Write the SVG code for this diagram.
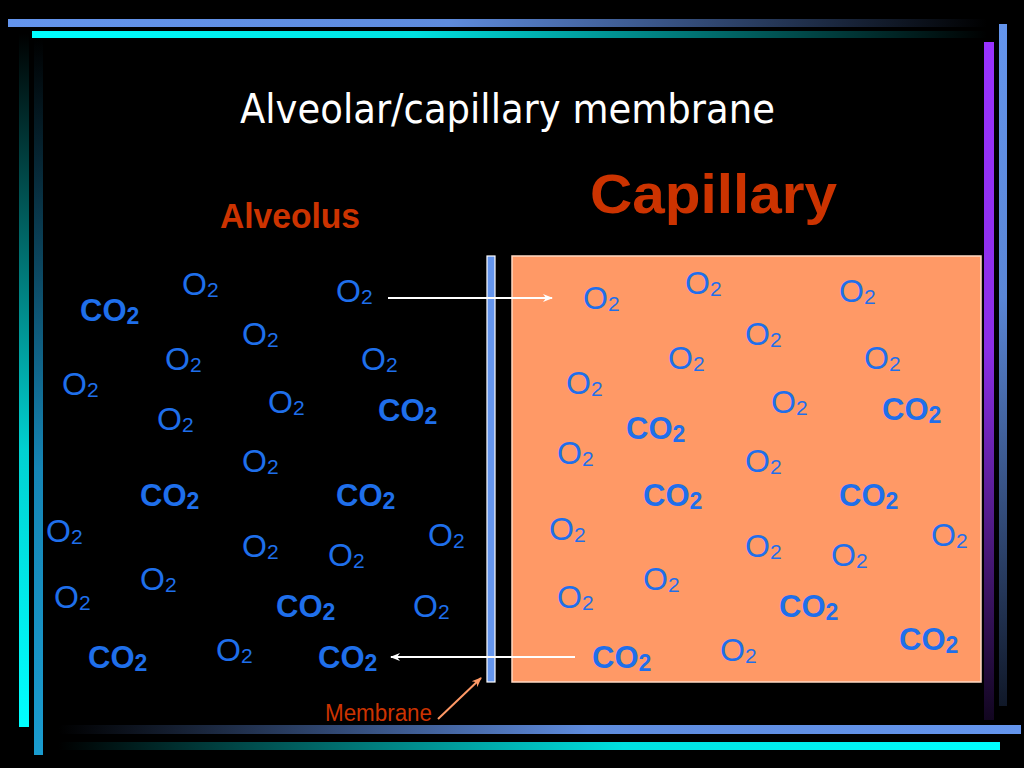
<svg xmlns="http://www.w3.org/2000/svg" width="1024" height="768" viewBox="0 0 1024 768">
<defs>
<linearGradient id="gTopBlue" x1="0" y1="0" x2="1" y2="0"><stop offset="0" stop-color="#6495ED"/><stop offset="0.45" stop-color="#5E8BDD"/><stop offset="1" stop-color="#000000"/></linearGradient>
<linearGradient id="gTopCyan" x1="0" y1="0" x2="1" y2="0"><stop offset="0" stop-color="#00FFFF"/><stop offset="0.4" stop-color="#00E0E0"/><stop offset="1" stop-color="#000000"/></linearGradient>
<linearGradient id="gBotBlue" x1="0" y1="0" x2="1" y2="0"><stop offset="0" stop-color="#000000"/><stop offset="0.55" stop-color="#5E8BDD"/><stop offset="1" stop-color="#6495ED"/></linearGradient>
<linearGradient id="gBotCyan" x1="0" y1="0" x2="1" y2="0"><stop offset="0" stop-color="#000000"/><stop offset="0.6" stop-color="#00E0E0"/><stop offset="1" stop-color="#00FFFF"/></linearGradient>
<linearGradient id="gLeftCyan" x1="0" y1="0" x2="0" y2="1"><stop offset="0" stop-color="#000000"/><stop offset="0.6" stop-color="#00D0D0"/><stop offset="1" stop-color="#00FFFF"/></linearGradient>
<linearGradient id="gLeftBlue" x1="0" y1="0" x2="0" y2="1"><stop offset="0" stop-color="#000000"/><stop offset="0.6" stop-color="#1585B5"/><stop offset="1" stop-color="#1A9CCF"/></linearGradient>
<linearGradient id="gRightPurple" x1="0" y1="0" x2="0" y2="1"><stop offset="0" stop-color="#9933FF"/><stop offset="0.45" stop-color="#8A2EE6"/><stop offset="1" stop-color="#120620"/></linearGradient>
<linearGradient id="gRightBlue" x1="0" y1="0" x2="0" y2="1"><stop offset="0" stop-color="#6495ED"/><stop offset="0.4" stop-color="#5A86D6"/><stop offset="1" stop-color="#101828"/></linearGradient>
<marker id="arrW" markerWidth="10" markerHeight="10" refX="9" refY="5" orient="auto" markerUnits="userSpaceOnUse"><path d="M0,1 L10,5 L0,9 L3,5 Z" fill="#FFFFFF"/></marker>
<marker id="arrS" markerWidth="10" markerHeight="10" refX="9" refY="5" orient="auto" markerUnits="userSpaceOnUse"><path d="M0,1 L10,5 L0,9 L3,5 Z" fill="#FF9966"/></marker>
</defs>
<style>
.o2{font-family:"Liberation Sans",Arial,sans-serif;font-size:32px;fill:#1F6FEB}
.o2 .s{font-size:21px}
.co2{font-family:"Liberation Sans",Arial,sans-serif;font-size:31px;font-weight:bold;fill:#1F6FEB}
.co2 .s{font-size:23px}
.red{font-family:"Liberation Sans",Arial,sans-serif;fill:#CC3300}
.conn{stroke-width:2;fill:none}
</style>
<rect x="0" y="0" width="1024" height="768" fill="#000000"/>
<g id="frame">
<rect x="8" y="19" width="979" height="8" fill="url(#gTopBlue)"/>
<rect x="32" y="31" width="955" height="7" fill="url(#gTopCyan)"/>
<rect x="19" y="33" width="10" height="694" fill="url(#gLeftCyan)"/>
<rect x="34" y="39" width="9" height="716" fill="url(#gLeftBlue)"/>
<rect x="984" y="42" width="10" height="678" fill="url(#gRightPurple)"/>
<rect x="999" y="24" width="8" height="682" fill="url(#gRightBlue)"/>
<rect x="59" y="725" width="962" height="9" fill="url(#gBotBlue)"/>
<rect x="59" y="742" width="941" height="8" fill="url(#gBotCyan)"/>
</g>
<g id="title"><text x="240" y="123" font-family="'DejaVu Sans',Tahoma,sans-serif" font-size="41" fill="#FFFFFF" textLength="535" lengthAdjust="spacingAndGlyphs">Alveolar/capillary membrane</text></g>
<g id="capillary-label"><text class="red" x="590" y="213" font-size="55" font-weight="bold" textLength="247" lengthAdjust="spacingAndGlyphs">Capillary</text></g>
<g id="alveolus-label"><text class="red" x="220" y="228" font-size="35" font-weight="bold" textLength="140" lengthAdjust="spacingAndGlyphs">Alveolus</text></g>
<g id="capillary"><rect x="512" y="256" width="469" height="426" fill="#FF9966" stroke="#FFD9C4" stroke-width="1.5"/></g>
<g id="membrane"><rect x="487" y="256" width="8" height="426" fill="#6495ED" stroke="#FFFFFF" stroke-width="1.2"/></g>
<g id="membrane-label"><text class="red" x="325" y="721" font-size="23" textLength="107" lengthAdjust="spacingAndGlyphs">Membrane</text></g>
<g id="alveolus-molecules">
<text class="o2" x="182" y="295">O<tspan class="s" dy="2">2</tspan></text>
<text class="o2" x="336" y="302">O<tspan class="s" dy="2">2</tspan></text>
<text class="co2" x="80" y="321">CO<tspan class="s" dy="3">2</tspan></text>
<text class="o2" x="242" y="345">O<tspan class="s" dy="2">2</tspan></text>
<text class="o2" x="165" y="370">O<tspan class="s" dy="2">2</tspan></text>
<text class="o2" x="361" y="370">O<tspan class="s" dy="2">2</tspan></text>
<text class="o2" x="62" y="395">O<tspan class="s" dy="2">2</tspan></text>
<text class="o2" x="268" y="413">O<tspan class="s" dy="2">2</tspan></text>
<text class="co2" x="378" y="421">CO<tspan class="s" dy="3">2</tspan></text>
<text class="o2" x="157" y="430">O<tspan class="s" dy="2">2</tspan></text>
<text class="o2" x="242" y="472">O<tspan class="s" dy="2">2</tspan></text>
<text class="co2" x="140" y="506">CO<tspan class="s" dy="3">2</tspan></text>
<text class="co2" x="336" y="506">CO<tspan class="s" dy="3">2</tspan></text>
<text class="o2" x="46" y="542">O<tspan class="s" dy="2">2</tspan></text>
<text class="o2" x="428" y="546">O<tspan class="s" dy="2">2</tspan></text>
<text class="o2" x="242" y="557">O<tspan class="s" dy="2">2</tspan></text>
<text class="o2" x="328" y="566">O<tspan class="s" dy="2">2</tspan></text>
<text class="o2" x="140" y="590">O<tspan class="s" dy="2">2</tspan></text>
<text class="o2" x="54" y="608">O<tspan class="s" dy="2">2</tspan></text>
<text class="co2" x="276" y="617">CO<tspan class="s" dy="3">2</tspan></text>
<text class="o2" x="413" y="617">O<tspan class="s" dy="2">2</tspan></text>
<text class="o2" x="216" y="661">O<tspan class="s" dy="2">2</tspan></text>
<text class="co2" x="88" y="668">CO<tspan class="s" dy="3">2</tspan></text>
<text class="co2" x="318" y="668">CO<tspan class="s" dy="3">2</tspan></text>
</g>
<g id="capillary-molecules">
<text class="o2" x="685" y="294">O<tspan class="s" dy="2">2</tspan></text>
<text class="o2" x="583" y="309">O<tspan class="s" dy="2">2</tspan></text>
<text class="o2" x="839" y="302">O<tspan class="s" dy="2">2</tspan></text>
<text class="o2" x="745" y="345">O<tspan class="s" dy="2">2</tspan></text>
<text class="o2" x="668" y="369">O<tspan class="s" dy="2">2</tspan></text>
<text class="o2" x="864" y="369">O<tspan class="s" dy="2">2</tspan></text>
<text class="o2" x="566" y="394">O<tspan class="s" dy="2">2</tspan></text>
<text class="o2" x="771" y="413">O<tspan class="s" dy="2">2</tspan></text>
<text class="co2" x="882" y="420">CO<tspan class="s" dy="3">2</tspan></text>
<text class="co2" x="626" y="439">CO<tspan class="s" dy="3">2</tspan></text>
<text class="o2" x="557" y="464">O<tspan class="s" dy="2">2</tspan></text>
<text class="o2" x="745" y="472">O<tspan class="s" dy="2">2</tspan></text>
<text class="co2" x="643" y="506">CO<tspan class="s" dy="3">2</tspan></text>
<text class="co2" x="839" y="506">CO<tspan class="s" dy="3">2</tspan></text>
<text class="o2" x="549" y="540">O<tspan class="s" dy="2">2</tspan></text>
<text class="o2" x="931" y="546">O<tspan class="s" dy="2">2</tspan></text>
<text class="o2" x="745" y="557">O<tspan class="s" dy="2">2</tspan></text>
<text class="o2" x="831" y="566">O<tspan class="s" dy="2">2</tspan></text>
<text class="o2" x="643" y="590">O<tspan class="s" dy="2">2</tspan></text>
<text class="o2" x="557" y="608">O<tspan class="s" dy="2">2</tspan></text>
<text class="co2" x="779" y="617">CO<tspan class="s" dy="3">2</tspan></text>
<text class="co2" x="899" y="650">CO<tspan class="s" dy="3">2</tspan></text>
<text class="o2" x="720" y="661">O<tspan class="s" dy="2">2</tspan></text>
<text class="co2" x="592" y="668">CO<tspan class="s" dy="3">2</tspan></text>
</g>
<g id="connectors">
<line class="conn" x1="388" y1="298" x2="552" y2="298" stroke="#FFFFFF" marker-end="url(#arrW)"/>
<line class="conn" x1="575" y1="657" x2="391" y2="657" stroke="#FFFFFF" marker-end="url(#arrW)"/>
<line class="conn" x1="438" y1="719" x2="481" y2="678" stroke="#FF9966" marker-end="url(#arrS)"/>
</g>
</svg>
